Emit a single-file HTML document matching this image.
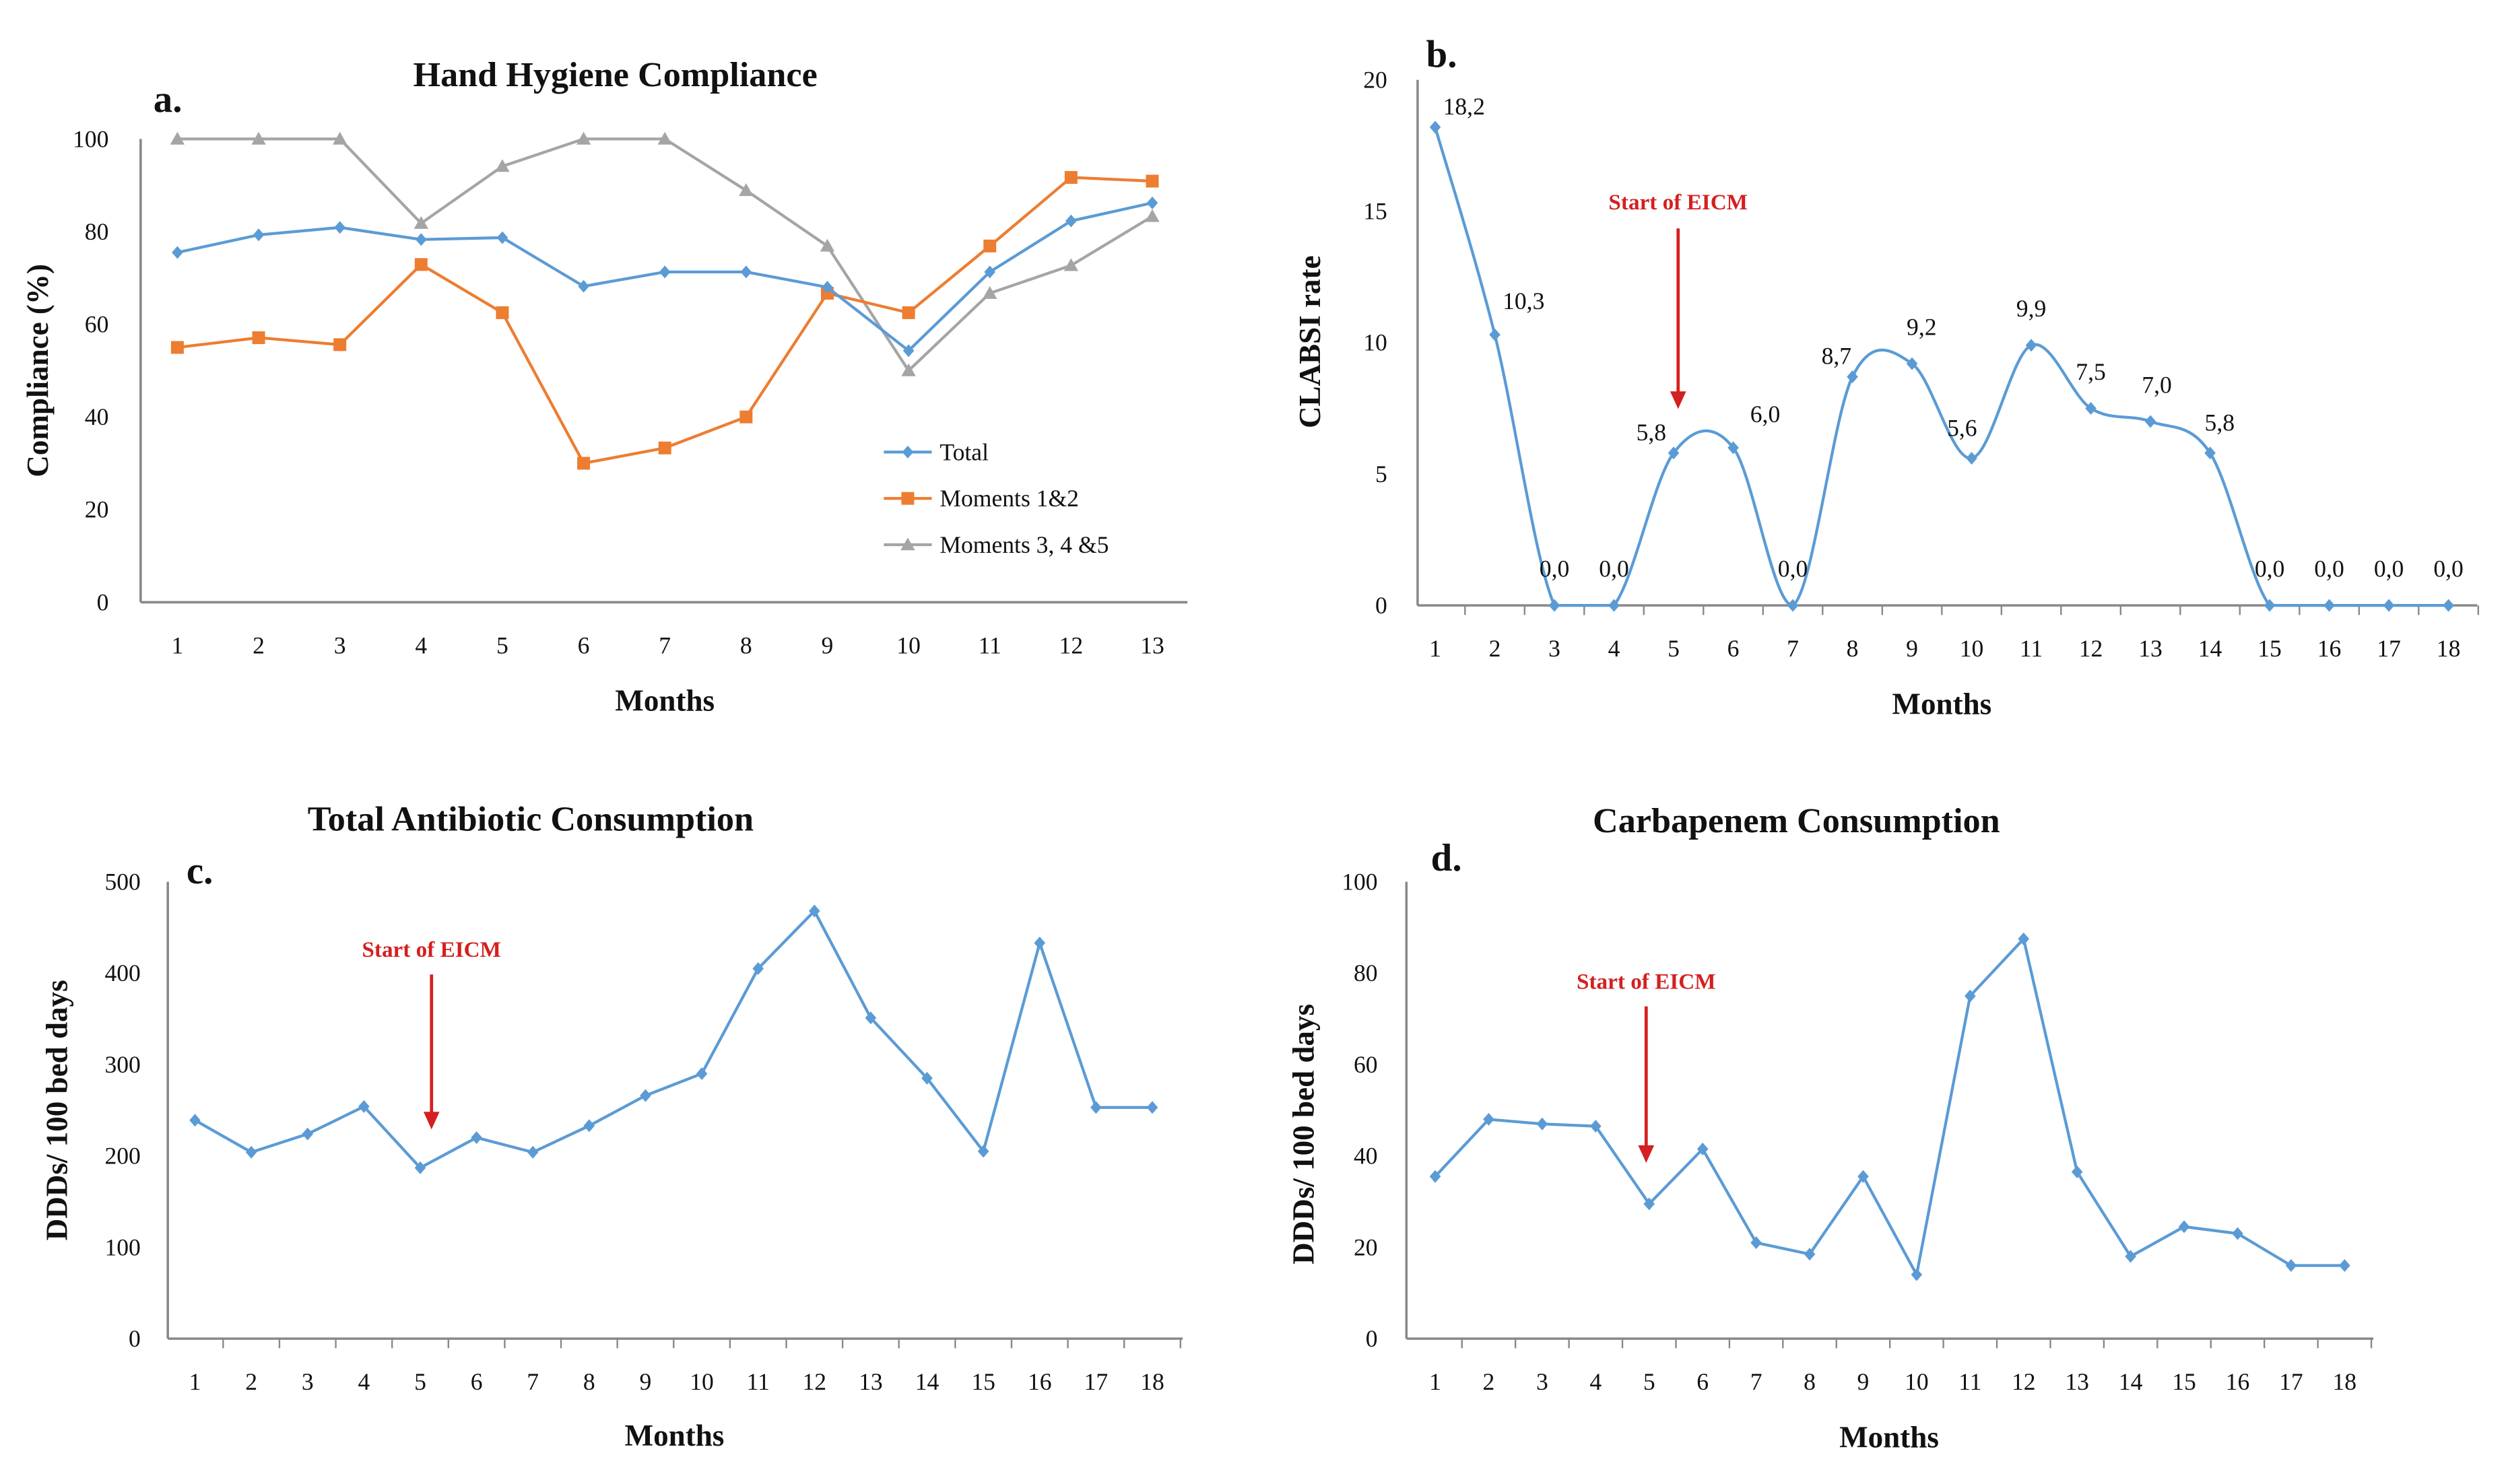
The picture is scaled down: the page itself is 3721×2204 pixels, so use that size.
<!DOCTYPE html>
<html><head><meta charset="utf-8"><style>
html,body{margin:0;padding:0;background:#fff;}
svg{display:block;}
text{font-family:"Liberation Serif",serif;fill:#111;}
</style></head><body>
<svg id="fig" width="3721" height="2204" viewBox="0 0 1568 929" preserveAspectRatio="none" xmlns="http://www.w3.org/2000/svg">
<rect width="1568" height="929" fill="#fff"/>
</svg>
<script>
// Panel a data
const aMonths = [1,2,3,4,5,6,7,8,9,10,11,12,13];
const aTotal = [75.5,79.3,80.9,78.3,78.7,68.2,71.3,71.3,68,54.3,71.3,82.3,86.2];
const aM12 = [55,57.1,55.6,72.9,62.5,30,33.3,40,66.7,62.5,76.9,91.7,90.9];
const aM345 = [100,100,100,81.8,94.1,100,100,88.9,76.9,50,66.7,72.7,83.3];
const aTicks = [0,20,40,60,80,100];
// Panel b data
const bMonths = [1,2,3,4,5,6,7,8,9,10,11,12,13,14,15,16,17,18];
const bRate = [18.2,10.3,0,0,5.8,6.0,0,8.7,9.2,5.6,9.9,7.5,7.0,5.8,0,0,0,0];
const bLabels = ["18,2","10,3","0,0","0,0","5,8","6,0","0,0","8,7","9,2","5,6","9,9","7,5","7,0","5,8","0,0","0,0","0,0","0,0"];
const bTicks = [0,5,10,15,20];
// Panel c data
const cMonths = [1,2,3,4,5,6,7,8,9,10,11,12,13,14,15,16,17,18];
const cValues = [239,204,224,254,187,220,204,233,266,290,405,468,351,285,205,433,253,253];
const cTicks = [0,100,200,300,400,500];
// Panel d data
const dMonths = [1,2,3,4,5,6,7,8,9,10,11,12,13,14,15,16,17,18];
const dValues = [35.5,48,47,46.5,29.5,41.5,21,18.5,35.5,14,75,87.5,36.5,18,24.5,23,16,16];
const dTicks = [0,20,40,60,80,100];

const NS="http://www.w3.org/2000/svg";
const svg=document.getElementById('fig');
function mk(tag,attrs,parent){const e=document.createElementNS(NS,tag);for(const k in attrs)e.setAttribute(k,attrs[k]);(parent||svg).appendChild(e);return e;}
function txt(s,x,y,size,opts,parent){opts=opts||{};const t=mk('text',{x:x,y:y,'font-size':size,'text-anchor':opts.anchor||'middle','font-weight':opts.bold?'bold':'normal'},parent);if(opts.fill)t.setAttribute('style','fill:'+opts.fill);if(opts.rot)t.setAttribute('transform','rotate(-90 '+x+' '+y+')');t.textContent=s;return t;}
function scale(d0,d1,r0,r1){return v=>r0+(v-d0)/(d1-d0)*(r1-r0);}
function marker(shape,x,y,color,g){
  let m;
  if(shape==='diamond'){m=mk('polygon',{points:`${x},${y-4} ${x+3.5},${y} ${x},${y+4} ${x-3.5},${y}`,fill:color},g);}
  else if(shape==='square'){m=mk('rect',{x:x-4,y:y-4,width:8,height:8,fill:color},g);}
  else {m=mk('polygon',{points:`${x},${y-4.5} ${x+4.5},${y+3.5} ${x-4.5},${y+3.5}`,fill:color},g);}
  
  
  return m;
}
function series(months,vals,X,Y,color,shape,name,smooth,floorY){
  const g=mk('g',{});
  
  
  const pts=months.map((m,i)=>[X(m),Y(vals[i])]);
  let d='M'+pts[0][0]+','+pts[0][1];
  if(smooth){
    for(let i=0;i<pts.length-1;i++){
      const p0=pts[Math.max(0,i-1)],p1=pts[i],p2=pts[i+1],p3=pts[Math.min(pts.length-1,i+2)];
      const c1=[p1[0]+(p2[0]-p0[0])/6,Math.min(floorY,p1[1]+(p2[1]-p0[1])/6)];
      const c2=[p2[0]-(p3[0]-p1[0])/6,Math.min(floorY,p2[1]-(p3[1]-p1[1])/6)];
      d+=` C${c1[0]},${c1[1]} ${c2[0]},${c2[1]} ${p2[0]},${p2[1]}`;
    }
  } else pts.slice(1).forEach(p=>d+=' L'+p[0]+','+p[1]);
  const l=mk('path',{d:d,fill:'none',stroke:color,'stroke-width':1.8},g);
  
  
  pts.forEach(p=>marker(shape,p[0],p[1],color,g));
  return pts;
}
function axes(x0,x1,y0,yTop,ticks,Y,months,X,tickMarks,labelX,name){
  const g=mk('g',{});
  
  
  mk('line',{x1:x0,y1:yTop,x2:x0,y2:y0,stroke:'#888','stroke-width':1.5},g);
  mk('line',{x1:x0,y1:y0,x2:x1,y2:y0,stroke:'#888','stroke-width':1.5},g);
  ticks.forEach(t=>{const e=txt(String(t),labelX,Y(t)+5,15,{anchor:'end'},g);});
  months.forEach((m,i)=>{const e=txt(String(m),X(m),y0+32,15,{},g);});
  if(tickMarks){
    const step=X(2)-X(1);
    for(let i=0;i<=months.length;i++){const x=X(1)-step/2+i*step;if(x>x0+2)mk('line',{x1:x,y1:y0,x2:x,y2:y0+6,stroke:'#888','stroke-width':1},g);}
  }
}
function arrow(x,yTop,yBot,label,ly){
  const g=mk('g',{});
  
  
  txt(label,x,ly,14,{fill:'#d42020',bold:true},g);
  mk('line',{x1:x,y1:yTop,x2:x,y2:yBot-8,stroke:'#d42020','stroke-width':2},g);
  mk('polygon',{points:`${x-5},${yBot-11} ${x+5},${yBot-11} ${x},${yBot}`,fill:'#d42020'},g);
}
const blue='#5b9bd5',orange='#ed7d31',gray='#a5a5a5';

// ---- Panel a
{
  const X=scale(1,13,111,721),Y=scale(0,100,377,87);
  axes(88,743,377,87,aTicks,Y,aMonths,X,false,68,'panel-a');
  txt('Hand Hygiene Compliance',385,54,22,{bold:true});
  txt('a.',105,70,24,{bold:true});
  txt('Compliance (%)',30,232,19,{bold:true,rot:true});
  txt('Months',416,445,19,{bold:true});
  series(aMonths,aM345,X,Y,gray,'triangle','series-moments-345');
  series(aMonths,aM12,X,Y,orange,'square','series-moments-12');
  series(aMonths,aTotal,X,Y,blue,'diamond','series-total');
  const lg=[['Total',blue,'diamond'],['Moments 1&2',orange,'square'],['Moments 3, 4 &5',gray,'triangle']];
  lg.forEach((e,i)=>{const y=283+i*29;const g=mk('g',{});
    
    
    mk('line',{x1:553,y1:y,x2:583,y2:y,stroke:e[1],'stroke-width':1.8},g);marker(e[2],568,y,e[1],g);txt(e[0],588,y+5,15,{anchor:'start'},g);});
}
// ---- Panel b
{
  const X=scale(1,18,898,1532),Y=scale(0,20,379,50);
  axes(887,1550,379,50,bTicks,Y,bMonths,X,true,868,'panel-b');
  txt('b.',902,42,24,{bold:true});
  txt('CLABSI rate',826,214,19,{bold:true,rot:true});
  txt('Months',1215,447,19,{bold:true});
  const pts=series(bMonths,bRate,X,Y,blue,'diamond','series-clabsi',true,Y(0));
  const off=[[18,-8],[18,-16],[0,-18],[0,-18],[-14,-8],[20,-16],[0,-18],[-10,-8],[6,-18],[-6,-14],[0,-18],[0,-18],[4,-18],[6,-14],[0,-18],[0,-18],[0,-18],[0,-18]];
  pts.forEach((p,i)=>{const e=txt(bLabels[i],p[0]+off[i][0],p[1]+off[i][1],15,{});});
  arrow(1050,143,256,'Start of EICM',131);
}
// ---- Panel c
{
  const X=scale(1,18,122,721),Y=scale(0,500,838,552);
  axes(105,740,838,552,cTicks,Y,cMonths,X,true,88,'panel-c');
  txt('Total Antibiotic Consumption',332,520,22,{bold:true});
  txt('c.',125,553,24,{bold:true});
  txt('DDDs/ 100 bed days',42,695,19,{bold:true,rot:true});
  txt('Months',422,905,19,{bold:true});
  series(cMonths,cValues,X,Y,blue,'diamond','series-total-antibiotic');
  arrow(270,610,707,'Start of EICM',599);
}
// ---- Panel d
{
  const X=scale(1,18,898,1467),Y=scale(0,100,838,552);
  axes(880,1485,838,552,dTicks,Y,dMonths,X,true,862,'panel-d');
  txt('Carbapenem Consumption',1124,521,22,{bold:true});
  txt('d.',905,545,24,{bold:true});
  txt('DDDs/ 100 bed days',822,710,19,{bold:true,rot:true});
  txt('Months',1182,906,19,{bold:true});
  series(dMonths,dValues,X,Y,blue,'diamond','series-carbapenem');
  arrow(1030,630,728,'Start of EICM',619);
}
</script>
</body></html>
